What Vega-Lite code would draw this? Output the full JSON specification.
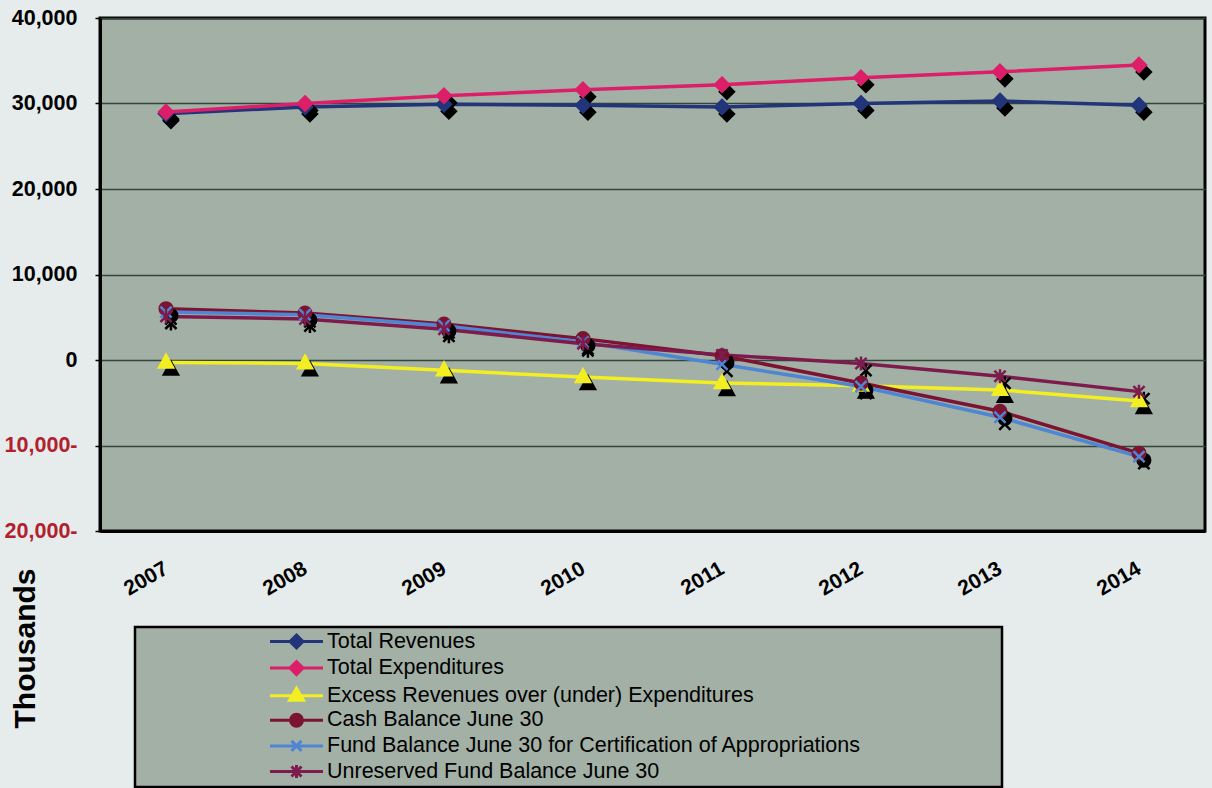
{
  "$schema": "https://vega.github.io/schema/vega-lite/v6.json",
  "width": 1105,
  "height": 513,
  "autosize": {"type": "none"},
  "padding": {"left": 100, "top": 18, "right": 7, "bottom": 257},
  "background": "#e6ebec",
  "config": {
    "font": "Liberation Sans",
    "view": {"fill": "#a3b0a6", "stroke": "black", "strokeWidth": 3},
    "legend": {"strokeWidth": 2.5}
  },
  "data": {
    "values": [
      {"year": "2007", "series": "Total Revenues", "value": 28800},
      {"year": "2008", "series": "Total Revenues", "value": 29600},
      {"year": "2009", "series": "Total Revenues", "value": 29900},
      {"year": "2010", "series": "Total Revenues", "value": 29800},
      {"year": "2011", "series": "Total Revenues", "value": 29600},
      {"year": "2012", "series": "Total Revenues", "value": 30000},
      {"year": "2013", "series": "Total Revenues", "value": 30300},
      {"year": "2014", "series": "Total Revenues", "value": 29800},
      {"year": "2007", "series": "Total Expenditures", "value": 29000},
      {"year": "2008", "series": "Total Expenditures", "value": 30000},
      {"year": "2009", "series": "Total Expenditures", "value": 30900},
      {"year": "2010", "series": "Total Expenditures", "value": 31600},
      {"year": "2011", "series": "Total Expenditures", "value": 32200},
      {"year": "2012", "series": "Total Expenditures", "value": 33000},
      {"year": "2013", "series": "Total Expenditures", "value": 33700},
      {"year": "2014", "series": "Total Expenditures", "value": 34500},
      {"year": "2007", "series": "Excess Revenues over (under)  Expenditures", "value": -300},
      {"year": "2008", "series": "Excess Revenues over (under)  Expenditures", "value": -400},
      {"year": "2009", "series": "Excess Revenues over (under)  Expenditures", "value": -1200},
      {"year": "2010", "series": "Excess Revenues over (under)  Expenditures", "value": -2000},
      {"year": "2011", "series": "Excess Revenues over (under)  Expenditures", "value": -2700},
      {"year": "2012", "series": "Excess Revenues over (under)  Expenditures", "value": -3000},
      {"year": "2013", "series": "Excess Revenues over (under)  Expenditures", "value": -3500},
      {"year": "2014", "series": "Excess Revenues over (under)  Expenditures", "value": -4800},
      {"year": "2007", "series": "Cash Balance June 30", "value": 6000},
      {"year": "2008", "series": "Cash Balance June 30", "value": 5500},
      {"year": "2009", "series": "Cash Balance June 30", "value": 4200},
      {"year": "2010", "series": "Cash Balance June 30", "value": 2500},
      {"year": "2011", "series": "Cash Balance June 30", "value": 500},
      {"year": "2012", "series": "Cash Balance June 30", "value": -2700},
      {"year": "2013", "series": "Cash Balance June 30", "value": -6000},
      {"year": "2014", "series": "Cash Balance June 30", "value": -10900},
      {"year": "2007", "series": "Fund Balance June 30 for Certification of Appropriations", "value": 5600},
      {"year": "2008", "series": "Fund Balance June 30 for Certification of Appropriations", "value": 5300},
      {"year": "2009", "series": "Fund Balance June 30 for Certification of Appropriations", "value": 4000},
      {"year": "2010", "series": "Fund Balance June 30 for Certification of Appropriations", "value": 2100},
      {"year": "2011", "series": "Fund Balance June 30 for Certification of Appropriations", "value": -500},
      {"year": "2012", "series": "Fund Balance June 30 for Certification of Appropriations", "value": -3100},
      {"year": "2013", "series": "Fund Balance June 30 for Certification of Appropriations", "value": -6700},
      {"year": "2014", "series": "Fund Balance June 30 for Certification of Appropriations", "value": -11300},
      {"year": "2007", "series": "Unreserved Fund Balance June 30", "value": 5100},
      {"year": "2008", "series": "Unreserved Fund Balance June 30", "value": 4800},
      {"year": "2009", "series": "Unreserved Fund Balance June 30", "value": 3600},
      {"year": "2010", "series": "Unreserved Fund Balance June 30", "value": 1900},
      {"year": "2011", "series": "Unreserved Fund Balance June 30", "value": 600},
      {"year": "2012", "series": "Unreserved Fund Balance June 30", "value": -400},
      {"year": "2013", "series": "Unreserved Fund Balance June 30", "value": -1900},
      {"year": "2014", "series": "Unreserved Fund Balance June 30", "value": -3700}
    ]
  },
  "encoding": {
    "x": {
      "field": "year", "type": "ordinal",
      "scale": {"type": "point", "padding": 0.475},
      "axis": {
        "title": null, "ticks": false, "grid": false,
        "domainColor": "black", "domainWidth": 3,
        "labelAngle": -30, "labelAlign": "right", "labelBaseline": "middle",
        "labelPadding": 36, "labelFont": "Liberation Sans", "labelFontWeight": "bold",
        "labelFontSize": 21, "labelColor": "black"
      }
    },
    "y": {
      "field": "value", "type": "quantitative",
      "scale": {"domain": [-20000, 40000], "nice": false, "zero": false},
      "axis": {
        "values": [-20000, -10000, 0, 10000, 20000, 30000, 40000],
        "labelExpr": "datum.value < 0 ? format(-datum.value, ',') + '-' : format(datum.value, ',')",
        "labelColor": {"condition": {"test": "datum.value < 0", "value": "#b2202e"}, "value": "black"},
        "labelFont": "Liberation Sans", "labelFontWeight": "bold", "labelFontSize": 21.5,
        "labelPadding": 18, "tickSize": 5, "tickColor": "black", "tickWidth": 1.5,
        "domainColor": "black", "domainWidth": 3,
        "grid": true, "gridColor": "#33443a", "gridWidth": 1.6,
        "title": "Thousands", "titleFont": "Liberation Sans", "titleFontWeight": "bold",
        "titleFontSize": 30, "titleColor": "black", "titleAngle": -90,
        "titleAlign": "center", "titleBaseline": "middle", "titleX": -75, "titleY": 630
      }
    }
  },
  "layer": [
    {
      "mark": {"type": "line", "strokeWidth": 3.5},
      "encoding": {
        "color": {
          "field": "series", "type": "nominal",
          "scale": {
            "domain": ["Total Revenues", "Total Expenditures", "Excess Revenues over (under)  Expenditures", "Cash Balance June 30", "Fund Balance June 30 for Certification of Appropriations", "Unreserved Fund Balance June 30"],
            "range": ["#22357a", "#dc1f68", "#f2ee22", "#7a1432", "#4f86d4", "#7d1c4c"]
          },
          "legend": {
            "orient": "none", "legendX": 35, "legendY": 609,
            "title": "MMMMMMM",
            "titleOrient": "right", "titleFontSize": 19, "titlePadding": 27,
            "titleColor": "rgba(0,0,0,0)",
            "fillColor": "#a3b0a6", "strokeColor": "black",
            "padding": 3, "symbolOffset": 147,
            "symbolSize": 400, "symbolStrokeWidth": 3, "symbolType": "circle",
            "labelFont": "Liberation Sans", "labelFontSize": 21.5, "labelColor": "black",
            "labelOffset": 19, "labelLimit": 700, "rowPadding": 1.6,
            "encode": {
              "symbols": {
                "update": {
                  "shape": {"signal": "datum.value === 'Total Revenues' || datum.value === 'Total Expenditures' ? 'M-2.65,0L2.65,0M0,-0.65L0.65,0L0,0.65L-0.65,0Z' : datum.value === 'Cash Balance June 30' ? 'M-2.65,0L2.65,0M-0.6,0A0.6,0.6 0 1,0 0.6,0A0.6,0.6 0 1,0 -0.6,0Z' : datum.value === 'Fund Balance June 30 for Certification of Appropriations' ? 'M-2.65,0L2.65,0M-0.5,-0.5L0.5,0.5M-0.5,0.5L0.5,-0.5' : datum.value === 'Unreserved Fund Balance June 30' ? 'M-2.65,0L2.65,0M-0.5,-0.5L0.5,0.5M-0.5,0.5L0.5,-0.5M0,-0.65L0,0.65' : 'M-2.65,0L2.65,0M0,-0.75L0.7,0.45L-0.7,0.45Z'"},
                  "fill": {"scale": "color", "field": "value"},
                  "fillOpacity": {"value": 1},
                  "stroke": {"scale": "color", "field": "value"},
                  "strokeWidth": {"value": 3}
                }
              }
            }
          }
        }
      }
    },
    {
      "mark": {"type": "point", "filled": true, "size": 196, "color": "black", "opacity": 1, "strokeWidth": 2.5, "stroke": "black"},
      "encoding": {
        "shape": {
          "field": "series", "type": "nominal",
          "scale": {
            "domain": ["Total Revenues", "Total Expenditures", "Excess Revenues over (under)  Expenditures", "Cash Balance June 30", "Fund Balance June 30 for Certification of Appropriations", "Unreserved Fund Balance June 30"],
            "range": ["M0.7,0L1.7,1L0.7,2L-0.3,1Z", "M0.7,0L1.7,1L0.7,2L-0.3,1Z", "M0.7,-0.1L1.7,1.7L-0.3,1.7Z", "M-0.2,1A0.9,0.9 0 1,0 1.6,1A0.9,0.9 0 1,0 -0.2,1Z", "M-0.1,0.2L1.5,1.8M-0.1,1.8L1.5,0.2", "M-0.1,0.2L1.5,1.8M-0.1,1.8L1.5,0.2M0.7,0L0.7,2"]
          },
          "legend": null
        }
      }
    },
    {
      "mark": {"type": "point", "filled": true, "size": 196, "opacity": 1, "strokeWidth": 2.5},
      "encoding": {
        "color": {"field": "series", "type": "nominal", "legend": null},
        "stroke": {"field": "series", "type": "nominal", "legend": null, "scale": {
            "domain": ["Total Revenues", "Total Expenditures", "Excess Revenues over (under)  Expenditures", "Cash Balance June 30", "Fund Balance June 30 for Certification of Appropriations", "Unreserved Fund Balance June 30"],
            "range": ["#22357a", "#dc1f68", "#f2ee22", "#7a1432", "#4f86d4", "#7d1c4c"]}},
        "shape": {
          "field": "series", "type": "nominal",
          "scale": {
            "domain": ["Total Revenues", "Total Expenditures", "Excess Revenues over (under)  Expenditures", "Cash Balance June 30", "Fund Balance June 30 for Certification of Appropriations", "Unreserved Fund Balance June 30"],
            "range": ["M0,-1L1,0L0,1L-1,0Z", "M0,-1L1,0L0,1L-1,0Z", "M0,-1.1L1,0.7L-1,0.7Z", "M-0.9,0A0.9,0.9 0 1,0 0.9,0A0.9,0.9 0 1,0 -0.9,0Z", "M-0.8,-0.8L0.8,0.8M-0.8,0.8L0.8,-0.8", "M-0.8,-0.8L0.8,0.8M-0.8,0.8L0.8,-0.8M0,-1L0,1"]
          },
          "legend": null
        }
      }
    }
  ],
  "resolve": {"scale": {"shape": "independent"}}
}
